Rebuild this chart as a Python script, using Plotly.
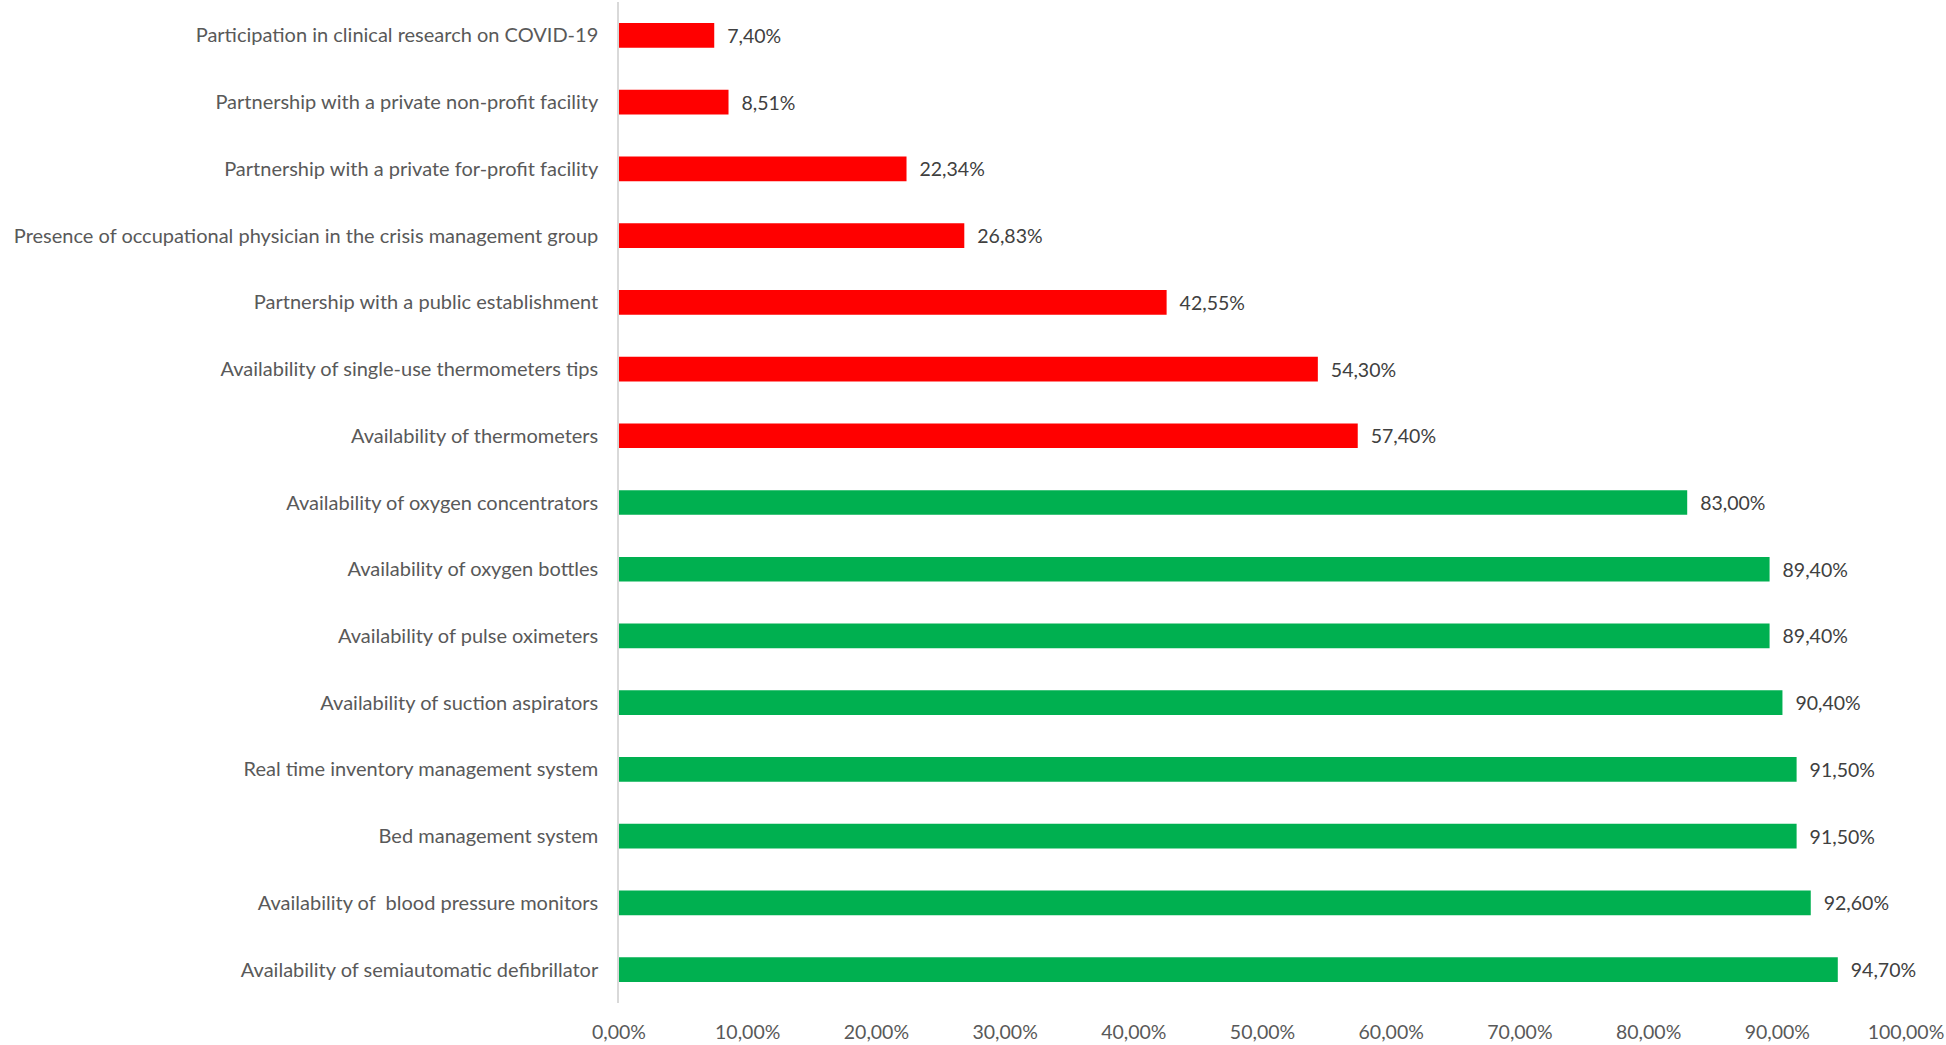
import plotly.graph_objects as go

categories = [
    "Availability of semiautomatic defibrillator",
    "Availability of  blood pressure monitors",
    "Bed management system",
    "Real time inventory management system",
    "Availability of suction aspirators",
    "Availability of pulse oximeters",
    "Availability of oxygen bottles",
    "Availability of oxygen concentrators",
    "Availability of thermometers",
    "Availability of single-use thermometers tips",
    "Partnership with a public establishment",
    "Presence of occupational physician in the crisis management group",
    "Partnership with a private for-profit facility",
    "Partnership with a private non-profit facility",
    "Participation in clinical research on COVID-19",
]
values = [0.947, 0.926, 0.915, 0.915, 0.904, 0.894, 0.894, 0.830,
          0.574, 0.543, 0.4255, 0.2683, 0.2234, 0.0851, 0.074]
groups = ["high"] * 8 + ["low"] * 7
group_colors = {"high": "#00B050", "low": "#FF0000"}

tick_vals = [i / 10 for i in range(11)]

colors = [group_colors[g] for g in groups]

fig = go.Figure(go.Bar(
    x=values, y=categories, orientation="h",
    marker=dict(color=colors, line=dict(width=0)),
    texttemplate="  %{x:.2%}", textposition="outside", cliponaxis=False,
    textfont=dict(family="Lato", size=19.5, color="#404040"),
))

fig.update_layout(
    width=1946, height=1045,
    margin=dict(l=619, r=39, t=2, b=40),
    paper_bgcolor="white", plot_bgcolor="white",
    separators=", ",
    bargap=0.63,
    showlegend=False,
    font=dict(family="Lato", size=20, color="#595959"),
)
fig.update_xaxes(range=[0, 1], tickvals=tick_vals, tickformat=".2%",
                 showgrid=False, zeroline=False, showline=False,
                 ticks="", ticklabelstandoff=15,
                 tickfont=dict(family="Lato", size=19.5, color="#595959"))
fig.update_yaxes(type="category", categoryorder="array", categoryarray=categories,
                 range=[-0.5, len(categories) - 0.5],
                 showgrid=False, zeroline=False, showline=True,
                 linecolor="#D9D9D9", linewidth=1.5, ticks="",
                 ticklabelstandoff=15,
                 tickfont=dict(family="Lato", size=20, color="#595959"))

fig.write_html("out.html", config={"displayModeBar": False},
               post_script="document.body.style.margin='0';document.body.style.overflow='hidden';")
